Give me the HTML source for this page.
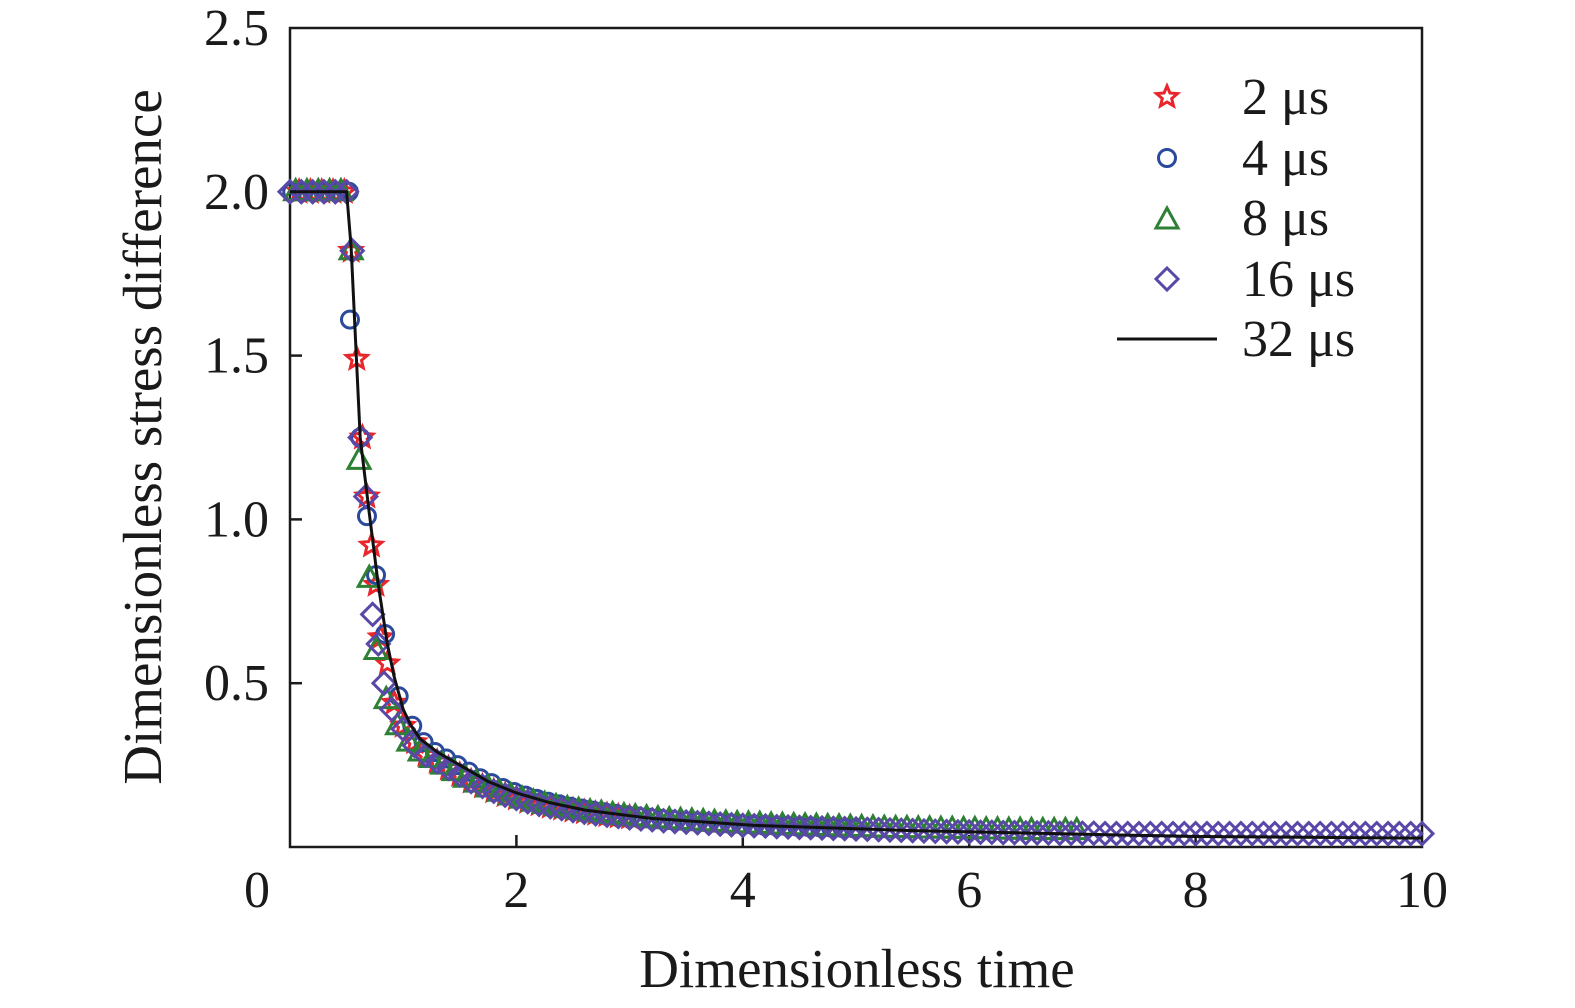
<!DOCTYPE html>
<html><head><meta charset="utf-8"><style>
html,body{margin:0;padding:0;background:#fff;overflow:hidden;width:1575px;height:1008px;}
svg{display:block;}
svg text{font-family:"Liberation Serif",serif;fill:#1a1a1a;}
</style></head><body>
<svg id="chart" width="1575" height="1008" viewBox="0 0 1575 1008" xmlns="http://www.w3.org/2000/svg">
<g id="axes"></g>
<g id="marks"></g>
<g id="legend"></g>
</svg>
<script>
const xTicks=[0,2,4,6,8,10];
const xTickLabels=["0","2","4","6","8","10"];
const yTicks=[0.5,1.0,1.5,2.0,2.5];
const yTickLabels=["0.5","1.0","1.5","2.0","2.5"];
const lineX=[0,0.5,0.54,0.62,0.7,0.78,0.86,0.92,1.0,1.07,1.15,1.3,1.5,1.75,2.0,2.3,2.6,3.2,4.1,5.5,8,10];
const lineY=[2.0,2.0,1.83,1.25,1.02,0.8,0.62,0.52,0.42,0.37,0.33,0.29,0.25,0.2,0.165,0.135,0.113,0.087,0.066,0.05,0.032,0.027];
const dX=[0,0.1,0.2,0.3,0.4,0.5,0.55,0.62,0.67,0.73,0.78,0.83,0.9,1.0,1.1,1.2,1.3,1.4,1.5,1.6,1.7,1.8,1.9,2.0,2.1,2.2,2.3,2.4,2.5,2.6,2.7,2.8,2.9,3.0,3.1,3.2,3.3,3.4,3.5,3.6,3.7,3.8,3.9,4.0,4.1,4.2,4.3,4.4,4.5,4.6,4.7,4.8,4.9,5.0,5.1,5.2,5.3,5.4,5.5,5.6,5.7,5.8,5.9,6.0,6.1,6.2,6.3,6.4,6.5,6.6,6.7,6.8,6.9,7.0,7.1,7.2,7.3,7.4,7.5,7.6,7.7,7.8,7.9,8.0,8.1,8.2,8.3,8.4,8.5,8.6,8.7,8.8,8.9,9.0,9.1,9.2,9.3,9.4,9.5,9.6,9.7,9.8,9.9,10.0];
const dY=[2.0,2.0,2.0,2.0,2.0,2.0,1.82,1.25,1.07,0.71,0.62,0.5,0.42,0.36,0.31,0.28,0.26,0.24,0.22,0.2,0.185,0.17,0.158,0.148,0.138,0.13,0.123,0.117,0.111,0.106,0.101,0.097,0.093,0.089,0.086,0.083,0.08,0.078,0.076,0.074,0.072,0.07,0.068,0.066,0.065,0.064,0.062,0.061,0.06,0.059,0.058,0.057,0.056,0.055,0.054,0.053,0.052,0.051,0.05,0.049,0.048,0.047,0.046,0.046,0.045,0.045,0.044,0.044,0.043,0.043,0.043,0.042,0.042,0.042,0.042,0.041,0.041,0.041,0.041,0.041,0.041,0.041,0.041,0.041,0.041,0.041,0.041,0.041,0.041,0.041,0.041,0.041,0.041,0.041,0.041,0.041,0.041,0.041,0.041,0.041,0.041,0.041,0.041,0.041];
const gX=[0.05,0.15,0.25,0.35,0.45,0.54,0.61,0.7,0.76,0.85,0.95,1.05,1.15,1.25,1.35,1.45,1.55,1.65,1.75,1.85,1.95,2.05,2.15,2.25,2.35,2.45,2.55,2.65,2.75,2.85,2.95,3.05,3.15,3.25,3.35,3.45,3.55,3.65,3.75,3.85,3.95,4.05,4.15,4.25,4.35,4.45,4.55,4.65,4.75,4.85,4.95,5.05,5.15,5.25,5.35,5.45,5.55,5.65,5.75,5.85,5.95,6.05,6.15,6.25,6.35,6.45,6.55,6.65,6.75,6.85,6.95];
const gY=[2.0,2.0,2.0,2.0,2.0,1.82,1.18,0.82,0.6,0.45,0.37,0.32,0.29,0.27,0.25,0.23,0.21,0.195,0.18,0.167,0.156,0.146,0.137,0.13,0.123,0.117,0.112,0.107,0.103,0.099,0.095,0.092,0.089,0.086,0.083,0.081,0.079,0.077,0.075,0.073,0.071,0.07,0.069,0.067,0.066,0.065,0.064,0.063,0.062,0.061,0.06,0.059,0.058,0.057,0.056,0.056,0.055,0.055,0.054,0.054,0.053,0.053,0.052,0.052,0.051,0.051,0.05,0.05,0.05,0.05,0.05];
const bX=[0.02,0.12,0.22,0.32,0.42,0.52,0.53,0.62,0.68,0.76,0.84,0.96,1.08,1.18,1.28,1.38,1.48,1.58,1.68,1.78,1.88,1.98,2.08,2.18,2.28,2.38,2.48,2.58,2.68,2.78,2.88,2.98,3.08,3.18,3.28,3.38,3.48,3.58,3.68,3.78,3.88,3.98,4.08,4.18,4.28,4.38,4.48,4.58,4.68,4.78,4.88,4.98];
const bY=[2.0,2.0,2.0,2.0,2.0,2.0,1.61,1.25,1.01,0.83,0.65,0.46,0.37,0.32,0.29,0.27,0.25,0.23,0.21,0.195,0.18,0.168,0.157,0.147,0.138,0.13,0.123,0.117,0.111,0.106,0.101,0.097,0.093,0.089,0.086,0.083,0.08,0.078,0.076,0.074,0.072,0.07,0.068,0.066,0.065,0.064,0.062,0.061,0.06,0.059,0.058,0.057];
const rX=[0.08,0.18,0.28,0.38,0.48,0.54,0.59,0.64,0.68,0.72,0.76,0.8,0.86,0.92,1.0,1.1,1.2,1.3,1.4,1.5,1.6,1.7,1.8,1.9,2.0,2.1,2.2,2.3,2.4,2.5,2.6,2.7,2.8,2.9,3.0];
const rY=[2.0,2.0,2.0,2.0,2.0,1.82,1.49,1.25,1.07,0.92,0.8,0.64,0.56,0.44,0.37,0.32,0.28,0.26,0.24,0.22,0.2,0.185,0.17,0.158,0.148,0.138,0.13,0.123,0.117,0.111,0.106,0.101,0.097,0.093,0.09];

const NS="http://www.w3.org/2000/svg";
const X0=290,X1=1422,Y0=847,Y1=28;
function sx(v){return X0+(X1-X0)*v/10;}
function sy(v){return Y0-(Y0-Y1)*v/2.5;}
function mk(tag,attrs,parent){const e=document.createElementNS(NS,tag);for(const k in attrs)e.setAttribute(k,attrs[k]);parent.appendChild(e);return e;}
const axes=document.getElementById('axes'),marks=document.getElementById('marks'),legend=document.getElementById('legend');

const frame=mk('rect',{x:X0,y:Y1,width:X1-X0,height:Y0-Y1,fill:'none',stroke:'#1a1a1a','stroke-width':2.5},axes);


xTicks.forEach((t,i)=>{
  if(t>0&&t<10){const tk=mk('line',{x1:sx(t),x2:sx(t),y1:Y0,y2:Y0-12,stroke:'#1a1a1a','stroke-width':2.5},axes);
  
  }
  const tx=mk('text',{x:(t==0?257:sx(t)),y:907,'text-anchor':'middle','font-size':52},axes);
  tx.textContent=xTickLabels[i];
  
  
});
yTicks.forEach((t,i)=>{
  if(t<2.5){const tk=mk('line',{x1:X0,x2:X0+12,y1:sy(t),y2:sy(t),stroke:'#1a1a1a','stroke-width':2.5},axes);
  
  }
  const tx=mk('text',{x:269,y:sy(t)+17,'text-anchor':'end','font-size':52},axes);
  tx.textContent=yTickLabels[i];
  
  
});
const xl=mk('text',{x:857,y:987,'text-anchor':'middle','font-size':55},axes);
xl.textContent='Dimensionless time';


const yl=mk('text',{x:0,y:0,'text-anchor':'middle','font-size':55,transform:'translate(161,437) rotate(-90)'},axes);
yl.textContent='Dimensionless stress difference';



const C={r:'#e8262b',b:'#2b4a9c',g:'#2e8035',p:'#5a48a8'};
function star(cx,cy,R,parent){let p='';for(let i=0;i<10;i++){const r=i%2?R*0.45:R;const a=-Math.PI/2+i*Math.PI/5;p+=(i?'L':'M')+(cx+r*Math.cos(a)).toFixed(1)+' '+(cy+r*Math.sin(a)).toFixed(1);}return mk('path',{d:p+'Z',fill:'none',stroke:C.r,'stroke-width':3},parent);}
function circ(cx,cy,parent){return mk('circle',{cx:cx,cy:cy,r:8.5,fill:'none',stroke:C.b,'stroke-width':3},parent);}
function tri(cx,cy,parent){return mk('path',{d:`M${cx} ${cy-12}L${cx+11} ${cy+8}L${cx-11} ${cy+8}Z`,fill:'none',stroke:C.g,'stroke-width':3},parent);}
function dia(cx,cy,parent){return mk('path',{d:`M${cx} ${cy-11}L${cx+11} ${cy}L${cx} ${cy+11}L${cx-11} ${cy}Z`,fill:'none',stroke:C.p,'stroke-width':3},parent);}

rX.forEach((x,i)=>{const e=star(sx(x),sy(rY[i]),11,marks);

});
bX.forEach((x,i)=>{const e=circ(sx(x),sy(bY[i]),marks);

});
gX.forEach((x,i)=>{const e=tri(sx(x),sy(gY[i]),marks);

});
dX.forEach((x,i)=>{const e=dia(sx(x),sy(dY[i]),marks);

});
const ln=mk('polyline',{points:lineX.map((x,i)=>sx(x)+','+sy(lineY[i])).join(' '),fill:'none',stroke:'#111','stroke-width':3,'stroke-linejoin':'round'},marks);



const labels=['2 μs','4 μs','8 μs','16 μs','32 μs'];
const ly=[97,158,218,279,339];
labels.forEach((t,i)=>{
  const g=mk('g',{},legend);
  
  
  if(i==0)star(1167,ly[i],11,g);
  if(i==1)circ(1167,ly[i],g);
  if(i==2)tri(1167,ly[i]+2,g);
  if(i==3)dia(1167,ly[i],g);
  if(i==4)mk('line',{x1:1117,x2:1217,y1:ly[i],y2:ly[i],stroke:'#111','stroke-width':3},g);
  const tx=mk('text',{x:1242,y:ly[i]+17,'font-size':52},g);
  tx.textContent=t;
});
</script>
</body></html>
